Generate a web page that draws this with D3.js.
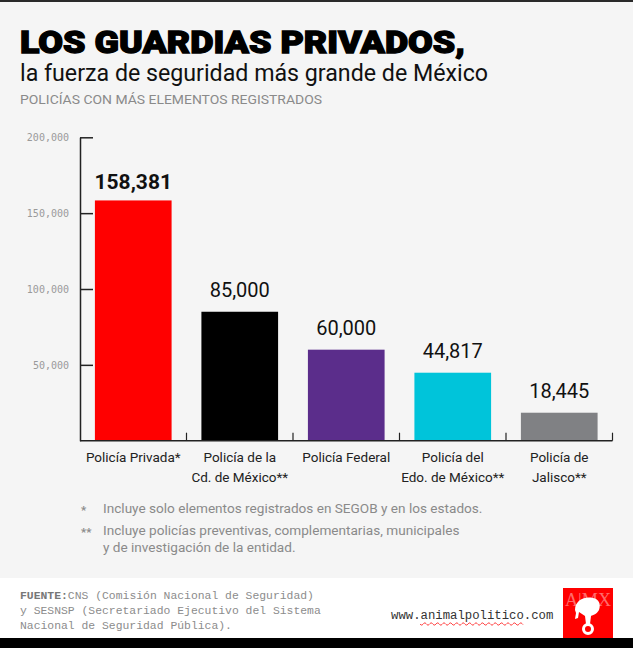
<!DOCTYPE html>
<html><head><meta charset="utf-8">
<script src="https://cdn.jsdelivr.net/npm/d3@7"></script>
<style>
html,body{margin:0;padding:0;background:#f5f5f5;}
svg{display:block;}
</style></head>
<body>
<script>
const categories = ["Policía Privada*", "Policía de la|Cd. de México**", "Policía Federal", "Policía del|Edo. de México**", "Policía de|Jalisco**"];
const values = [158381, 85000, 60000, 44817, 18445];
const barColors = ["#ff0000", "#000000", "#5b2d8b", "#00c4da", "#808184"];
const yTicks = [50000, 100000, 150000, 200000];
const title = "LOS GUARDIAS PRIVADOS,";
const subtitle = "la fuerza de seguridad más grande de México";
const kicker = "POLICÍAS CON MÁS ELEMENTOS REGISTRADOS";
const notes = [["*", ["Incluye solo elementos registrados en SEGOB y en los estados."]],
               ["**", ["Incluye policías preventivas, complementarias, municipales", "y de investigación de la entidad."]]];
const source = ["CNS (Comisión Nacional de Seguridad)", "y SESNSP (Secretariado Ejecutivo del Sistema", "Nacional de Seguridad Pública)."];

const W = 633, H = 648;
const svg = d3.select("body").append("svg").attr("width", W).attr("height", H);
svg.append("rect").attr("width", W).attr("height", H).attr("fill", "#f5f5f5");
svg.append("rect").attr("width", W).attr("height", 2).attr("fill", "#2a2a2a");

// Titles
svg.append("text").attr("x", 20).attr("y", 53).text(title)
  .attr("font-family", "Roboto, 'Liberation Sans', sans-serif").attr("font-weight", 900)
  .attr("font-size", 31).attr("fill", "#000").attr("stroke", "#000").attr("stroke-width", 1.3)
  .attr("textLength", 445).attr("lengthAdjust", "spacingAndGlyphs");
svg.append("text").attr("x", 20).attr("y", 81).text(subtitle)
  .attr("font-family", "Roboto, 'Liberation Sans', sans-serif").attr("font-weight", 400)
  .attr("font-size", 23).attr("fill", "#111")
  .attr("textLength", 468).attr("lengthAdjust", "spacingAndGlyphs");
svg.append("text").attr("x", 20).attr("y", 104).text(kicker)
  .attr("font-family", "Roboto, 'Liberation Sans', sans-serif")
  .attr("font-size", 12.5).attr("fill", "#8a8a8a")
  .attr("textLength", 302).attr("lengthAdjust", "spacingAndGlyphs");

// Scales
const y = d3.scaleLinear().domain([0, 200000]).range([440.7, 137.3]);
const x = d3.scaleBand().domain(categories).range([80, 612.5]).paddingInner(0.28).paddingOuter(0.14);

// Y axis
const yAxis = d3.axisLeft(y).tickValues(yTicks).tickSizeInner(-13).tickSizeOuter(0).tickPadding(11)
  .tickFormat(d3.format(","));
const gy = svg.append("g").attr("transform", "translate(80,0)").call(yAxis);
gy.select(".domain").attr("stroke", "#222").attr("stroke-width", 1.5);
gy.selectAll(".tick line").attr("stroke", "#222").attr("stroke-width", 1.5);
gy.selectAll(".tick text").attr("font-family", "'DejaVu Sans Mono', 'Liberation Mono', monospace")
  .attr("font-size", 10).attr("fill", "#9a9a9a");

// Bars
svg.append("g").selectAll("rect").data(values).join("rect")
  .attr("x", (d, i) => x(categories[i])).attr("width", x.bandwidth())
  .attr("y", d => y(d)).attr("height", d => y(0) - y(d))
  .attr("fill", (d, i) => barColors[i]);

// X axis baseline & boundary ticks
svg.append("line").attr("x1", 80).attr("x2", x.range()[1]).attr("y1", y(0)).attr("y2", y(0))
  .attr("stroke", "#222").attr("stroke-width", 1.5);
svg.append("g").selectAll("line").data(categories).join("line")
  .attr("x1", c => x(c) + x.bandwidth() + x.step() * x.paddingInner() / 2)
  .attr("x2", c => x(c) + x.bandwidth() + x.step() * x.paddingInner() / 2)
  .attr("y1", y(0)).attr("y2", y(0) - 8).attr("stroke", "#222").attr("stroke-width", 1.2);

// Value labels
svg.append("g").selectAll("text").data(values).join("text")
  .attr("x", (d, i) => x(categories[i]) + x.bandwidth() / 2)
  .attr("y", (d, i) => y(d) - (i === 0 ? 11 : 15))
  .attr("text-anchor", "middle")
  .attr("font-family", "Roboto, 'Liberation Sans', sans-serif")
  .attr("font-weight", (d, i) => i === 0 ? 700 : 400)
  .attr("font-size", (d, i) => i === 0 ? 21 : 20)
  .attr("fill", "#111")
  .text(d => d3.format(",")(d));

// Category labels
const cl = svg.append("g").selectAll("text").data(categories).join("text")
  .attr("text-anchor", "middle")
  .attr("font-family", "Roboto, 'Liberation Sans', sans-serif")
  .attr("font-size", 13.5).attr("fill", "#222");
cl.each(function(c) {
  const lines = c.split("|");
  d3.select(this).selectAll("tspan").data(lines).join("tspan")
    .attr("x", x(c) + x.bandwidth() / 2)
    .attr("y", (l, j) => 462 + j * 20)
    .text(l => l);
});

// Notes
const ng = svg.append("g").attr("font-family", "Roboto, 'Liberation Sans', sans-serif")
  .attr("font-size", 13.6).attr("fill", "#8a8a8a");
let ny = 513;
notes.forEach(([mark, lines]) => {
  ng.append("text").attr("x", 81).attr("y", ny + 1).text(mark).attr("font-weight", 700).attr("font-size", 11.5);
  lines.forEach((l, j) => {
    ng.append("text").attr("x", 103).attr("y", ny + j * 17).text(l);
  });
  ny += 22;
});

// Footer
svg.append("rect").attr("x", 0).attr("y", 578).attr("width", W).attr("height", 60).attr("fill", "#ffffff");
svg.append("rect").attr("x", 0).attr("y", 638).attr("width", W).attr("height", 10).attr("fill", "#000");
const fg = svg.append("g").attr("font-family", "'Liberation Mono', 'DejaVu Sans Mono', monospace")
  .attr("font-size", 11.4).attr("fill", "#8c8c8c");
source.forEach((s, j) => {
  const t = fg.append("text").attr("x", 20).attr("y", 599 + j * 15);
  if (j === 0) t.append("tspan").attr("font-weight", 700).attr("fill", "#777").text("FUENTE:");
  t.append("tspan").text(s);
});
svg.append("text").attr("x", 391).attr("y", 619)
  .attr("font-family", "'Liberation Mono', 'DejaVu Sans Mono', monospace")
  .attr("font-size", 12.3).attr("fill", "#333").text("www.animalpolitico.com");
// wavy underline
const wave = d3.range(0, 104, 1).map(i => [420 + i, 624 + Math.sin(i / 3.2 * Math.PI) * 1.2]);
svg.append("path").attr("d", d3.line()(wave)).attr("fill", "none").attr("stroke", "#ff4a4a").attr("stroke-width", 1);

// Logo
const lg = svg.append("g").attr("transform", "translate(563,588)");
lg.append("rect").attr("width", 50).attr("height", 50).attr("fill", "#ff0000");
lg.append("text").attr("x", 2).attr("y", 18).attr("font-family", "'Liberation Serif', serif")
  .attr("font-size", 18).attr("fill", "#ff6b6b").attr("textLength", 46).attr("lengthAdjust", "spacingAndGlyphs").text("A|MX");
lg.append("path").attr("fill", "#fff")
  .attr("d", "M12,22 C12,12 22,8 30,10 C36,11 38,16 36,22 C34,26 30,27 28,28 L27,36 L23,36 L22,28 C20,27 18,25 16,24 L15,30 L12,31 L13,25 Z");
lg.append("circle").attr("cx", 25).attr("cy", 41).attr("r", 4.5).attr("fill", "none").attr("stroke", "#fff").attr("stroke-width", 3);
</script>
</body></html>
